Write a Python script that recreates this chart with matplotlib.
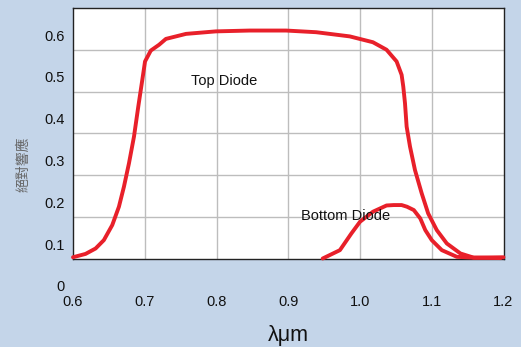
import matplotlib
matplotlib.use("Agg")
import matplotlib.pyplot as plt
import matplotlib.transforms as mtransforms

# Spectral response curves (wavelength in µm, response)
top_wl = [0.600, 0.6175, 0.6315, 0.643, 0.6547, 0.664, 0.671, 0.678, 0.685, 0.691,
          0.6966, 0.7004, 0.7084, 0.720, 0.7295, 0.7575, 0.799, 0.846, 0.897, 0.939,
          0.9857, 1.018, 1.037, 1.051, 1.058, 1.0603, 1.0627, 1.065, 1.0697, 1.0766,
          1.086, 1.095, 1.107, 1.121, 1.140, 1.1585, 1.200]
top_resp = [0.103, 0.111, 0.124, 0.144, 0.180, 0.224, 0.272, 0.328, 0.392, 0.464,
            0.528, 0.572, 0.598, 0.612, 0.626, 0.638, 0.644, 0.646, 0.646, 0.642,
            0.632, 0.618, 0.600, 0.572, 0.540, 0.512, 0.472, 0.416, 0.368, 0.312,
            0.256, 0.208, 0.168, 0.136, 0.112, 0.102, 0.103]

bottom_wl = [0.948, 0.972, 0.988, 1.000, 1.018, 1.037, 1.047, 1.058, 1.0655, 1.075,
             1.084, 1.091, 1.100, 1.114, 1.135, 1.1585, 1.196]
bottom_resp = [0.100, 0.120, 0.160, 0.188, 0.212, 0.227, 0.228, 0.228, 0.224, 0.216,
               0.196, 0.168, 0.144, 0.120, 0.104, 0.102, 0.101]

x_ticks = [0.6, 0.7, 0.8, 0.9, 1.0, 1.1, 1.2]
x_tick_labels = ["0.6", "0.7", "0.8", "0.9", "1.0", "1.1", "1.2"]
y_ticks = [0.0, 0.1, 0.2, 0.3, 0.4, 0.5, 0.6]
y_tick_labels = ["0", "0.1", "0.2", "0.3", "0.4", "0.5", "0.6"]

bg = "#c4d5e9"
red = "#e8202a"
font = ["Liberation Sans", "DejaVu Sans"]

fig = plt.figure(figsize=(5.21, 3.47), dpi=100, facecolor=bg)
W, H = 521, 347
left, right, top, bottom = 73.0, 503.5, 8.0, 258.5
ax = fig.add_axes([left / W, 1 - bottom / H, (right - left) / W, (bottom - top) / H])
ax.set_facecolor("white")
ax.set_xlim(0.6, 1.2)
ax.set_ylim(0.1, 0.7)

ax.set_xticks(x_ticks[1:-1])
ax.set_yticks([0.2, 0.3, 0.4, 0.5, 0.6])
ax.grid(True, color="#bdbdbd", linewidth=1.0)
ax.set_axisbelow(True)
ax.tick_params(length=0, labelbottom=False, labelleft=False)
for s in ax.spines.values():
    s.set_color("#222222")
    s.set_linewidth(1.0)

for wl, resp in ((top_wl, top_resp), (bottom_wl, bottom_resp)):
    ax.plot(wl, resp, color=red, linewidth=2.8, solid_joinstyle="round",
            solid_capstyle="round", clip_on=False, zorder=3)

# y tick labels sit slightly above their gridlines
ytrans = mtransforms.blended_transform_factory(ax.transAxes, ax.transData) + \
    mtransforms.ScaledTranslation(-8 / 100, 13 / 100, fig.dpi_scale_trans)
for v, lab in zip(y_ticks, y_tick_labels):
    ax.text(0, v, lab, transform=ytrans, ha="right", va="center",
            fontsize=10.5, family=font, color="#111111", clip_on=False)

xtrans = mtransforms.blended_transform_factory(ax.transData, ax.transAxes) + \
    mtransforms.ScaledTranslation(0, -44 / 100, fig.dpi_scale_trans)
for v, lab in zip(x_ticks, x_tick_labels):
    ax.text(v, 0, lab, transform=xtrans, ha="center", va="center",
            fontsize=10.5, family=font, color="#111111", clip_on=False)

fig.text(288 / W, 1 - 336 / H, "λμm", ha="center", va="center",
         fontsize=15.5, family=font, color="#111111")
fig.text(23 / W, 1 - 164 / H, "絕對響應", ha="center", va="center", rotation=90,
         fontsize=10, family=["Noto Sans CJK TC", "DejaVu Sans"], color="#666666")

ax.text(0.7643, 0.524, "Top Diode", ha="left", va="center",
        fontsize=10.5, family=font, color="#111111")
ax.text(0.918, 0.202, "Bottom Diode", ha="left", va="center",
        fontsize=10.5, family=font, color="#111111")

fig.savefig("out.png", dpi=100, facecolor=bg)
